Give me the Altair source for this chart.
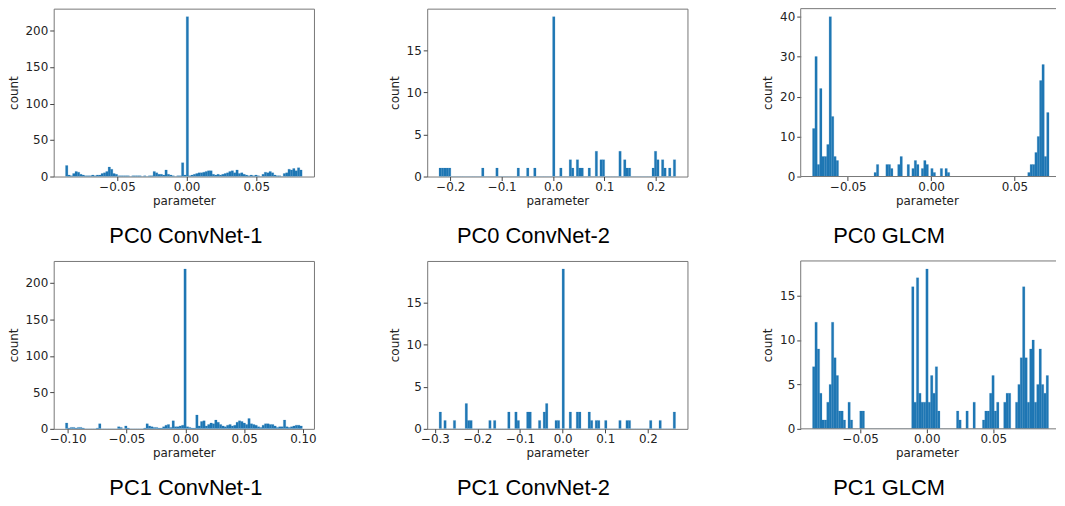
import altair as alt
import pandas as pd

# ---- histogram bin counts (100 equal bins per panel) ----
pc0_cn1 = [15, 2, 1, 4, 7, 6, 3, 2, 1, 1,
           1, 2, 1, 2, 2, 4, 5, 7, 13, 10,
           4, 3, 1, 1, 1, 1, 1, 0, 1, 1,
           1, 1, 0, 1, 0, 1, 1, 7, 5, 3,
           3, 2, 9, 3, 2, 1, 0, 1, 1, 19,
           2, 219, 1, 2, 3, 4, 5, 5, 6, 7,
           8, 8, 3, 2, 3, 2, 3, 4, 5, 7,
           8, 5, 9, 4, 5, 3, 2, 1, 2, 1,
           2, 1, 0, 3, 6, 5, 7, 5, 2, 1,
           1, 0, 4, 5, 10, 9, 11, 8, 12, 9]
pc0_cn1_range = [-0.087, 0.083]

pc0_cn2 = [1, 1, 1, 1, 1, 0, 0, 0, 0, 0,
           0, 0, 0, 0, 0, 0, 0, 0, 1, 0,
           0, 0, 0, 0, 1, 0, 0, 0, 0, 0,
           0, 0, 0, 1, 0, 0, 0, 1, 0, 0,
           1, 0, 0, 0, 0, 0, 0, 0, 19, 0,
           0, 1, 0, 0, 0, 2, 1, 0, 2, 1,
           1, 0, 0, 1, 0, 0, 3, 0, 2, 2,
           0, 0, 0, 0, 0, 0, 3, 0, 2, 1,
           1, 0, 0, 0, 0, 0, 0, 0, 0, 0,
           1, 3, 2, 0, 2, 1, 0, 1, 0, 2]
pc0_cn2_range = [-0.222, 0.239]

pc0_glcm = [12, 30, 3, 22, 5, 5, 8, 40, 15, 5,
            4, 0, 0, 0, 0, 0, 0, 0, 0, 0,
            0, 0, 0, 0, 0, 0, 1, 3, 0, 0,
            0, 3, 3, 2, 0, 0, 3, 5, 0, 0,
            3, 0, 2, 4, 3, 0, 2, 4, 3, 0,
            2, 1, 0, 0, 2, 0, 2, 1, 0, 0,
            0, 0, 0, 0, 0, 0, 0, 0, 0, 0,
            0, 0, 0, 0, 0, 0, 0, 0, 0, 0,
            0, 0, 0, 0, 0, 0, 0, 0, 0, 0,
            0, 1, 3, 3, 6, 10, 24, 28, 5, 16]
pc0_glcm_range = [-0.0712, 0.0708]

pc1_cn1 = [8, 1, 2, 2, 1, 2, 2, 1, 0, 0,
           0, 0, 0, 1, 7, 0, 0, 0, 0, 0,
           0, 0, 3, 2, 0, 4, 1, 0, 0, 0,
           0, 0, 0, 1, 7, 4, 3, 2, 2, 1,
           1, 3, 5, 6, 2, 11, 3, 3, 4, 5,
           219, 3, 2, 1, 1, 19, 4, 10, 11, 4,
           6, 8, 7, 12, 9, 6, 4, 3, 5, 6,
           4, 5, 9, 11, 10, 8, 6, 14, 7, 6,
           5, 3, 2, 5, 7, 7, 6, 6, 4, 2,
           3, 3, 12, 3, 2, 3, 4, 5, 5, 4]
pc1_cn1_range = [-0.102, 0.0995]

pc1_cn2 = [2, 0, 1, 0, 0, 0, 1, 0, 0, 0,
           0, 3, 1, 1, 0, 0, 0, 0, 0, 0,
           0, 1, 0, 1, 0, 0, 0, 0, 0, 2,
           0, 0, 2, 1, 0, 0, 0, 2, 2, 0,
           0, 0, 1, 0, 2, 3, 0, 0, 0, 1,
           1, 0, 19, 0, 0, 2, 0, 0, 2, 2,
           0, 0, 0, 2, 1, 0, 1, 1, 0, 0,
           1, 0, 0, 0, 0, 0, 1, 0, 0, 1,
           1, 0, 0, 0, 0, 0, 0, 0, 0, 1,
           0, 0, 0, 1, 0, 0, 0, 0, 0, 2]
pc1_cn2_range = [-0.29, 0.265]

pc1_glcm = [7, 12, 9, 4, 1, 1, 3, 5, 12, 8,
            6, 2, 2, 1, 0, 3, 1, 0, 0, 0,
            2, 2, 0, 0, 0, 0, 0, 0, 0, 0,
            0, 0, 0, 0, 0, 0, 0, 0, 0, 0,
            0, 0, 16, 3, 17, 4, 3, 3, 18, 3,
            6, 4, 7, 2, 0, 0, 0, 0, 0, 0,
            0, 2, 1, 0, 0, 2, 0, 0, 3, 0,
            0, 0, 1, 2, 2, 4, 6, 2, 3, 0,
            0, 3, 4, 4, 0, 0, 3, 5, 8, 16,
            8, 3, 9, 10, 3, 5, 9, 5, 4, 6]
pc1_glcm_range = [-0.0858, 0.0915]

titles = ["PC0 ConvNet-1", "PC0 ConvNet-2", "PC0 GLCM",
          "PC1 ConvNet-1", "PC1 ConvNet-2", "PC1 GLCM"]

x_ticks_small = [-0.05, 0.0, 0.05]
x_ticks_pc1cn1 = [-0.10, -0.05, 0.0, 0.05, 0.10]
x_ticks_cn2_0 = [-0.2, -0.1, 0.0, 0.1, 0.2]
x_ticks_cn2_1 = [-0.3, -0.2, -0.1, 0.0, 0.1, 0.2]
y_ticks_big = [0, 50, 100, 150, 200]
y_ticks_small = [0, 5, 10, 15]
y_ticks_glcm0 = [0, 10, 20, 30, 40]

BLUE = "#1f77b4"
FRAME = "#777"
H = 169


def panel(counts, rng, domain, xticks, fmt, yticks, title, dx, width, open_right=False):
    lo, hi = rng
    w = (hi - lo) / len(counts)
    df = pd.DataFrame({
        "x0": [lo + i * w for i in range(len(counts))],
        "x1": [lo + (i + 1) * w for i in range(len(counts))],
        "count": counts,
    })
    ymax = max(counts) * 1.05
    bars = alt.Chart(df).mark_bar(color=BLUE, clip=True, stroke=BLUE, strokeWidth=0.2).encode(
        x=alt.X("x0:Q", scale=alt.Scale(domain=domain, nice=False, zero=False),
                axis=alt.Axis(values=xticks, format=fmt, title="parameter")),
        x2="x1:Q",
        y=alt.Y("count:Q", scale=alt.Scale(domain=[0, ymax], nice=False),
                axis=alt.Axis(values=yticks, title="count")),
        y2=alt.datum(0),
    )
    ttl = alt.TitleParams(text=title, orient="bottom", anchor="middle",
                          font="Liberation Sans", fontSize=22, fontWeight="normal",
                          color="black", offset=20, dx=dx)
    if not open_right:
        return bars.properties(width=width, height=H, title=ttl)
    # frame drawn without its right side (cut off at the picture's edge in the reference)
    one = pd.DataFrame({"k": [0]})
    top = alt.Chart(one).mark_rule(color=FRAME, strokeWidth=1).encode(
        x=alt.value(0), x2=alt.value(width + 3), y=alt.value(0))
    bottom = alt.Chart(one).mark_rule(color=FRAME, strokeWidth=1).encode(
        x=alt.value(0), x2=alt.value(width + 3), y=alt.value(H))
    left = alt.Chart(one).mark_rule(color=FRAME, strokeWidth=1).encode(
        x=alt.value(0), y=alt.value(0), y2=alt.value(H))
    return alt.layer(bars, top, bottom, left).properties(
        width=width, height=H, title=ttl,
        view=alt.ViewBackground(strokeOpacity=0),
    )


charts = [
    panel(pc0_cn1, pc0_cn1_range, [-0.0955, 0.0915], x_ticks_small, ".2f", y_ticks_big, titles[0], 2, 262),
    panel(pc0_cn2, pc0_cn2_range, [-0.245, 0.262], x_ticks_cn2_0, ".1f", y_ticks_small, titles[1], -24, 262),
    panel(pc0_glcm, pc0_glcm_range, [-0.0783, 0.0732], x_ticks_small, ".2f", y_ticks_glcm0, titles[2], -38, 254, True),
    panel(pc1_cn1, pc1_cn1_range, [-0.112, 0.1094], x_ticks_pc1cn1, ".2f", y_ticks_big, titles[3], 2, 262),
    panel(pc1_cn2, pc1_cn2_range, [-0.318, 0.293], x_ticks_cn2_1, ".1f", y_ticks_small, titles[4], -24, 262),
    panel(pc1_glcm, pc1_glcm_range, [-0.0947, 0.0949], x_ticks_small, ".2f", y_ticks_small, titles[5], -38, 254, True),
]

chart = alt.concat(
    *charts, columns=3, spacing={"row": 85, "column": 114}, bounds="flush"
).properties(
    padding={"left": -2, "top": -2, "right": 0, "bottom": 0}
).configure_view(
    stroke=FRAME, strokeWidth=1
).configure_axis(
    labelFont="DejaVu Sans", labelFontSize=12, labelColor="#222",
    titleFont="DejaVu Sans", titleFontSize=12, titleFontWeight="normal", titleColor="#222",
    tickColor="#444", tickSize=4, domain=False, grid=False,
).configure_axisX(
    labelPadding=1, titlePadding=3
).configure_axisY(
    labelPadding=2, titlePadding=5
)

chart.save("out.html", embed_options={"renderer": "svg", "actions": False})
